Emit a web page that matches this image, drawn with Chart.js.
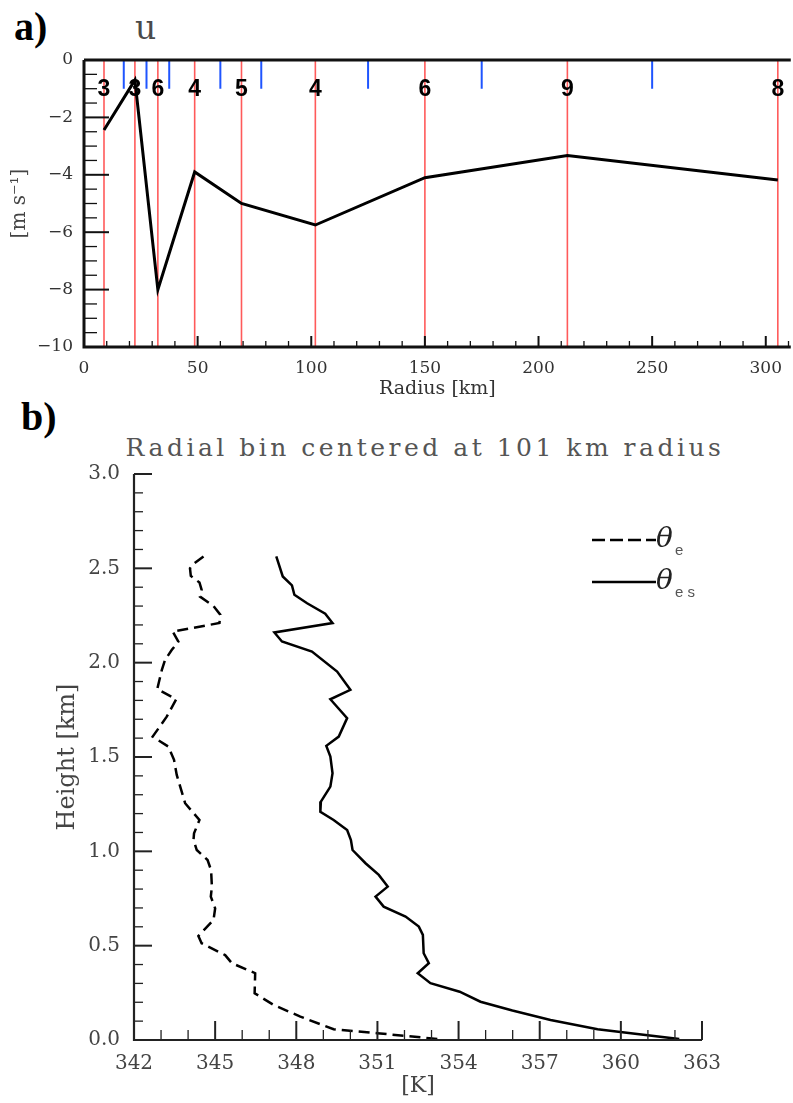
<!DOCTYPE html>
<html>
<head>
<meta charset="utf-8">
<script src="https://cdn.jsdelivr.net/npm/chart.js@4"></script>
<style>
body { margin: 0; background: #fff; width: 793px; height: 1103px; position: relative; overflow: hidden; }
canvas { position: absolute; left: 0; }
#uChart { top: 0; }
#thetaChart { top: 400px; }
.panel { position: absolute; font-family: "Liberation Serif", serif; font-weight: bold; font-size: 40px; color: #000; line-height: 1; }
.ttl { position: absolute; font-family: "DejaVu Serif", serif; color: #555; line-height: 1; white-space: nowrap; }
</style>
</head>
<body>
<div class="panel" style="left:14px; top:7px;">a)</div>
<div class="panel" style="left:21px; top:397px;">b)</div>
<div class="ttl" style="left:135px; top:11px; font-size:33px; color:#4a4a4a;">u</div>
<div class="ttl" style="left:0; width:850px; text-align:center; top:435px; font-size:25px; letter-spacing:3.5px;">Radial bin centered at 101 km radius</div>
<canvas id="uChart" width="793" height="400"></canvas>
<canvas id="thetaChart" width="793" height="703"></canvas>
<script>
// panel a: u per radial bin
var binCenters = [8.8, 22.4, 32.5, 48.7, 69.3, 101.8, 150.0, 212.7, 305.3];
var uWind      = [-2.44, -0.7, -8.0, -3.9, -5.0, -5.75, -4.1, -3.33, -4.18];
var binCounts  = ['3', '3', '6', '4', '5', '4', '6', '9', '8'];
var binEdges   = [17.5, 27.5, 37.5, 60, 78, 125, 175, 250];

// panel b: theta_e and theta_es profiles (height km, K)
var heightE = [2.563, 2.52, 2.50, 2.46, 2.425, 2.386, 2.35, 2.30, 2.254, 2.21, 2.165, 2.112, 2.068, 2.015, 1.962, 1.86, 1.806, 1.714, 1.608, 1.555, 1.485, 1.405, 1.255, 1.166, 1.096, 1.06, 1.007, 0.954, 0.90, 0.813, 0.76, 0.698, 0.636, 0.551, 0.513, 0.45, 0.407, 0.354, 0.248, 0.186, 0.124, 0.057, 0.036, 0.005];
var thetaE  = [344.57, 344.17, 344.07, 344.1, 344.42, 344.5, 344.44, 344.94, 345.19, 345.16, 343.43, 343.64, 343.40, 343.15, 343.03, 342.86, 343.56, 343.21, 342.69, 343.27, 343.48, 343.58, 343.89, 344.42, 344.22, 344.2, 344.32, 344.72, 344.85, 344.88, 344.84, 345.0, 344.94, 344.38, 344.5, 345.37, 345.62, 346.48, 346.46, 347.16, 348.15, 349.38, 350.99, 353.27];
var heightEs = [2.563, 2.457, 2.41, 2.36, 2.315, 2.26, 2.21, 2.16, 2.112, 2.059, 1.953, 1.856, 1.806, 1.706, 1.608, 1.559, 1.502, 1.414, 1.343, 1.264, 1.21, 1.166, 1.113, 1.06, 1.007, 0.937, 0.875, 0.813, 0.76, 0.707, 0.654, 0.601, 0.557, 0.46, 0.407, 0.354, 0.301, 0.256, 0.203, 0.156, 0.106, 0.057, 0.036, 0.005];
var thetaEs  = [347.26, 347.5, 347.84, 347.93, 348.4, 349.07, 349.34, 347.19, 347.47, 348.58, 349.51, 350.0, 349.26, 349.88, 349.57, 349.11, 349.26, 349.34, 349.26, 348.91, 348.89, 349.38, 349.88, 350.02, 350.08, 350.56, 351.05, 351.38, 350.93, 351.23, 352.04, 352.53, 352.68, 352.71, 352.9, 352.49, 352.96, 354.04, 354.81, 355.99, 357.4, 359.14, 360.37, 362.16];

var serif = '"DejaVu Serif", serif';

// inward ticks + axis lines, NCL style
var axisTicks = {
  id: 'axisTicks',
  afterDatasetsDraw: function(chart, args, o) {
    var ctx = chart.ctx, a = chart.chartArea, x = chart.scales.x, y = chart.scales.y;
    ctx.save();
    ctx.strokeStyle = o.color;
    var i, v, p, big;
    for (i = 0; (v = x.min + i * o.xMinor) <= x.max + 1e-9; i++) {
      p = x.getPixelForValue(v);
      big = i % o.xEvery === 0;
      ctx.lineWidth = big ? 2 : 1.3;
      ctx.beginPath();
      ctx.moveTo(p, a.bottom);
      ctx.lineTo(p, a.bottom - (big ? o.xMajorLen : o.xMinorLen));
      ctx.stroke();
    }
    for (i = 0; (v = y.min + i * o.yMinor) <= y.max + 1e-9; i++) {
      p = y.getPixelForValue(v);
      big = i % o.yEvery === 0;
      ctx.lineWidth = big ? 2 : 1.3;
      ctx.beginPath();
      ctx.moveTo(a.left, p);
      ctx.lineTo(a.left + (big ? o.yMajorLen : o.yMinorLen), p);
      ctx.stroke();
    }
    ctx.lineWidth = o.axisWidth;
    ctx.beginPath();
    ctx.moveTo(a.left, a.top);
    ctx.lineTo(a.left, a.bottom);
    ctx.lineTo(a.right, a.bottom);
    if (o.boxTop) {
      ctx.moveTo(a.left, a.top);
      ctx.lineTo(a.right, a.top);
    }
    ctx.stroke();
    ctx.restore();
  }
};

// sample counts written on each bin line
var countLabels = {
  id: 'countLabels',
  afterDatasetsDraw: function(chart, args, o) {
    if (!o.show) return;
    var ctx = chart.ctx, x = chart.scales.x, y = chart.scales.y;
    ctx.save();
    ctx.font = 'bold 23px "Liberation Sans", Arial, sans-serif';
    ctx.fillStyle = '#000';
    ctx.textAlign = 'center';
    ctx.textBaseline = 'middle';
    for (var i = 0; i < binCenters.length; i++) {
      ctx.fillText(binCounts[i], x.getPixelForValue(binCenters[i]), y.getPixelForValue(-1.05));
    }
    ctx.restore();
  }
};

// legend with theta symbols
var thetaLegend = {
  id: 'thetaLegend',
  afterDraw: function(chart, args, o) {
    if (!o.show) return;
    var ctx = chart.ctx, a = chart.chartArea;
    var x0 = a.left + 458, x1 = a.left + 522;
    var rows = [{ y: a.top + 66, dash: [13, 5], sub: 'e' }, { y: a.top + 108, dash: [], sub: 'es' }];
    ctx.save();
    rows.forEach(function(r) {
      ctx.strokeStyle = '#000';
      ctx.lineWidth = 2.5;
      ctx.setLineDash(r.dash);
      ctx.beginPath();
      ctx.moveTo(x0, r.y);
      ctx.lineTo(x1, r.y);
      ctx.stroke();
      ctx.fillStyle = '#222';
      ctx.font = 'italic 28px ' + serif;
      ctx.textBaseline = 'middle';
      ctx.fillText('\u03b8', x1, r.y);
      ctx.fillStyle = '#555';
      ctx.font = '15px "Liberation Sans", sans-serif';
      ctx.fillText(r.sub.split('').join(' '), x1 + 19, r.y + 11);
    });
    ctx.restore();
  }
};

function profile(xs, ys) {
  return xs.map(function(v, i) { return { x: v, y: ys[i] }; });
}

var uDatasets = [{
  data: profile(binCenters, uWind),
  borderColor: '#000', borderWidth: 3, pointRadius: 0, showLine: true, order: 0
}];
binCenters.forEach(function(c) {
  uDatasets.push({ data: [{ x: c, y: -10 }, { x: c, y: 0 }], borderColor: '#ff5a5a', borderWidth: 1.6, pointRadius: 0, showLine: true, order: 2 });
});
binEdges.forEach(function(e) {
  uDatasets.push({ data: [{ x: e, y: -1 }, { x: e, y: 0 }], borderColor: '#1f55ff', borderWidth: 2, pointRadius: 0, showLine: true, order: 1 });
});

new Chart(document.getElementById('uChart'), {
  type: 'scatter',
  data: { datasets: uDatasets },
  plugins: [axisTicks, countLabels],
  options: {
    responsive: false, animation: false,
    layout: { padding: { top: 60, right: 0, left: 0, bottom: 0 } },
    plugins: {
      legend: { display: false }, tooltip: { enabled: false },
      axisTicks: { color: '#111', xMinor: 10, xEvery: 5, xMajorLen: 11, xMinorLen: 6, yMinor: 0.5, yEvery: 4, yMajorLen: 25, yMinorLen: 13, axisWidth: 3, boxTop: true },
      countLabels: { show: true }
    },
    scales: {
      x: {
        type: 'linear', min: 0, max: 311,
        afterFit: function(s) { s.height = 53; },
        grid: { display: false, drawTicks: false }, border: { display: false },
        ticks: { stepSize: 50, includeBounds: false, padding: 11, color: '#333', font: { family: serif, size: 17 } },
        title: { display: true, text: 'Radius [km]', color: '#333', font: { family: serif, size: 19 }, padding: { top: 0, bottom: 0 } }
      },
      y: {
        type: 'linear', min: -10, max: 0,
        afterFit: function(s) { s.width = 84; },
        grid: { display: false, drawTicks: false }, border: { display: false },
        ticks: { stepSize: 2, padding: 11, color: '#333', font: { family: serif, size: 17 },
          callback: function(v) { return v < 0 ? '\u2212' + (-v) : String(v); } },
        title: { display: true, text: '[m s\u207b\u00b9]', color: '#444', font: { family: serif, size: 20 }, padding: { top: 8, bottom: 0 } }
      }
    }
  }
});

new Chart(document.getElementById('thetaChart'), {
  type: 'scatter',
  data: {
    datasets: [
      { data: profile(thetaE, heightE), borderColor: '#000', borderWidth: 2.5, borderDash: [11, 6], pointRadius: 0, showLine: true },
      { data: profile(thetaEs, heightEs), borderColor: '#000', borderWidth: 2.5, pointRadius: 0, showLine: true }
    ]
  },
  plugins: [axisTicks, thetaLegend],
  options: {
    responsive: false, animation: false,
    layout: { padding: { top: 74, right: 91, left: 0, bottom: 0 } },
    plugins: {
      legend: { display: false }, tooltip: { enabled: false },
      axisTicks: { color: '#222', xMinor: 1, xEvery: 3, xMajorLen: 19, xMinorLen: 10, yMinor: 0.1, yEvery: 5, yMajorLen: 18, yMinorLen: 9, axisWidth: 2.2, boxTop: false },
      thetaLegend: { show: true }
    },
    scales: {
      x: {
        type: 'linear', min: 342, max: 363,
        afterFit: function(s) { s.height = 63; },
        grid: { display: false, drawTicks: false }, border: { display: false },
        ticks: { stepSize: 3, padding: 12, color: '#444', font: { family: serif, size: 20 } },
        title: { display: true, text: '[K]', color: '#444', font: { family: serif, size: 22 }, padding: { top: 0, bottom: 4 } }
      },
      y: {
        type: 'linear', min: 0, max: 3,
        afterFit: function(s) { s.width = 134; },
        grid: { display: false, drawTicks: false }, border: { display: false },
        ticks: { stepSize: 0.5, padding: 14, color: '#444', font: { family: serif, size: 20 },
          callback: function(v) { return v.toFixed(1); } },
        title: { display: true, text: 'Height [km]', color: '#444', font: { family: serif, size: 24 }, padding: { top: 53, bottom: 0 } }
      }
    }
  }
});
</script>
</body>
</html>
